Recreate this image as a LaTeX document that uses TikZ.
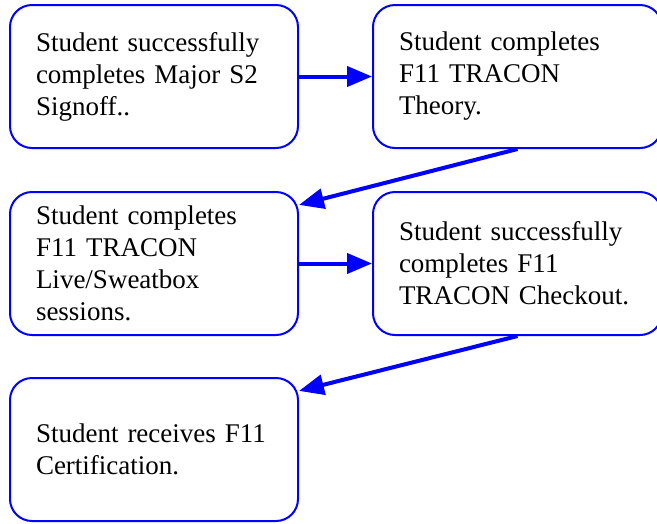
\documentclass[tikz,border=0pt]{standalone}
\usepackage{fontspec}
\setmainfont{Liberation Serif}
\usetikzlibrary{arrows.meta,positioning}

\tikzset{
  stagebox/.style={draw=blue, line width=2pt, rounded corners=22pt, fill=white,
    minimum height=143pt, text width=236pt, inner xsep=26pt, inner ysep=0pt,
    align=left, font=\fontsize{27}{32}\selectfont},
  flowarrow/.style={draw=blue, line width=4pt, -{Triangle[length=25pt,width=20pt]}}
}

\begin{document}
\begin{tikzpicture}[x=1pt,y=-1pt]
\clip (0,0) rectangle (657,523);
\node[stagebox] (signoff) at (154,76.5) {Student successfully\\completes Major S2\\Signoff..};
\node[stagebox, text width=237pt] (theory) at (517.5,76.5) {Student completes\\F11 TRACON\\Theory.};
\node[stagebox] (live) at (154,263.5) {Student completes\\F11 TRACON\\Live/Sweatbox\\sessions.};
\node[stagebox, text width=237pt] (checkout) at (517.5,263.5) {Student successfully\\completes F11\\TRACON Checkout.};
\node[stagebox] (cert) at (154,449.5) {Student receives F11\\Certification.};
\draw[flowarrow] (signoff.east) -- (theory.west);
\draw[flowarrow] (theory.south) -- (live.22);
\draw[flowarrow] (live.east) -- (checkout.west);
\draw[flowarrow] (checkout.south) -- (cert.22);
\end{tikzpicture}
\end{document}
